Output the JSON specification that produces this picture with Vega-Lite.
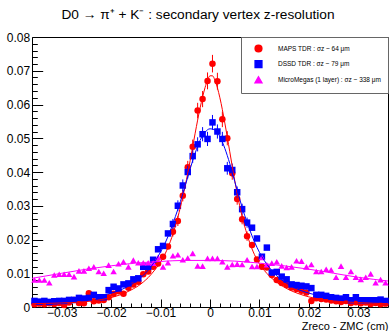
{
"$schema": "https://vega.github.io/schema/vega-lite/v6.json",
"width": 356, "height": 270,
"autosize": {"type": "none"},
"padding": {"left": 32, "top": 37, "right": 2, "bottom": 24},
"title": {"text": "D0 → π⁺ + K⁻ : secondary vertex z-resolution", "font": "Liberation Sans", "fontSize": 13.7, "fontWeight": "normal", "anchor": "middle", "frame": "group", "dx": -12, "offset": -2, "baseline": "alphabetic", "color": "#000"},
"config": {"view": {"stroke": "#000", "strokeWidth": 1}, "font": "Liberation Sans"},
"datasets": {
"pts": [
{"s":"MAPS","x":-0.0355,"y":0.0008},{"s":"MAPS","x":-0.0345,"y":0.0010},{"s":"MAPS","x":-0.0335,"y":0.0008},{"s":"MAPS","x":-0.0325,"y":0.0011},{"s":"MAPS","x":-0.0315,"y":0.0009},{"s":"MAPS","x":-0.0305,"y":0.0012},{"s":"MAPS","x":-0.0295,"y":0.0006},{"s":"MAPS","x":-0.0285,"y":0.0013},{"s":"MAPS","x":-0.0275,"y":0.0021},{"s":"MAPS","x":-0.0265,"y":0.0012},{"s":"MAPS","x":-0.0255,"y":0.0011},{"s":"MAPS","x":-0.0245,"y":0.0041},{"s":"MAPS","x":-0.0235,"y":0.0017},{"s":"MAPS","x":-0.0225,"y":0.0019},{"s":"MAPS","x":-0.0215,"y":0.0021},{"s":"MAPS","x":-0.0205,"y":0.0029},{"s":"MAPS","x":-0.0195,"y":0.0039},{"s":"MAPS","x":-0.0185,"y":0.0047},{"s":"MAPS","x":-0.0175,"y":0.0039},{"s":"MAPS","x":-0.0165,"y":0.0057},{"s":"MAPS","x":-0.0155,"y":0.0067},{"s":"MAPS","x":-0.0145,"y":0.0075},{"s":"MAPS","x":-0.0135,"y":0.0097},{"s":"MAPS","x":-0.0125,"y":0.0105},{"s":"MAPS","x":-0.0115,"y":0.0119},{"s":"MAPS","x":-0.0105,"y":0.0129},{"s":"MAPS","x":-0.0095,"y":0.0149},{"s":"MAPS","x":-0.0085,"y":0.0179},{"s":"MAPS","x":-0.0075,"y":0.0223},{"s":"MAPS","x":-0.0065,"y":0.0255},{"s":"MAPS","x":-0.0055,"y":0.0330},{"s":"MAPS","x":-0.0045,"y":0.0414},{"s":"MAPS","x":-0.0035,"y":0.0475},{"s":"MAPS","x":-0.0025,"y":0.0582},{"s":"MAPS","x":-0.0015,"y":0.0616},{"s":"MAPS","x":-0.0005,"y":0.0670},{"s":"MAPS","x":0.0005,"y":0.0721},{"s":"MAPS","x":0.0015,"y":0.0669},{"s":"MAPS","x":0.0025,"y":0.0556},{"s":"MAPS","x":0.0035,"y":0.0500},{"s":"MAPS","x":0.0045,"y":0.0396},{"s":"MAPS","x":0.0055,"y":0.0320},{"s":"MAPS","x":0.0065,"y":0.0260},{"s":"MAPS","x":0.0075,"y":0.0210},{"s":"MAPS","x":0.0085,"y":0.0184},{"s":"MAPS","x":0.0095,"y":0.0141},{"s":"MAPS","x":0.0105,"y":0.0119},{"s":"MAPS","x":0.0115,"y":0.0117},{"s":"MAPS","x":0.0125,"y":0.0095},{"s":"MAPS","x":0.0135,"y":0.0080},{"s":"MAPS","x":0.0145,"y":0.0071},{"s":"MAPS","x":0.0155,"y":0.0065},{"s":"MAPS","x":0.0165,"y":0.0058},{"s":"MAPS","x":0.0175,"y":0.0053},{"s":"MAPS","x":0.0185,"y":0.0048},{"s":"MAPS","x":0.0195,"y":0.0043},{"s":"MAPS","x":0.0205,"y":0.0018},{"s":"MAPS","x":0.0215,"y":0.0026},{"s":"MAPS","x":0.0225,"y":0.0024},{"s":"MAPS","x":0.0235,"y":0.0022},{"s":"MAPS","x":0.0245,"y":0.0019},{"s":"MAPS","x":0.0255,"y":0.0017},{"s":"MAPS","x":0.0265,"y":0.0015},{"s":"MAPS","x":0.0275,"y":0.0018},{"s":"MAPS","x":0.0285,"y":0.0012},{"s":"MAPS","x":0.0295,"y":0.0014},{"s":"MAPS","x":0.0305,"y":0.0011},{"s":"MAPS","x":0.0315,"y":0.0013},{"s":"MAPS","x":0.0325,"y":0.0009},{"s":"MAPS","x":0.0335,"y":0.0012},{"s":"MAPS","x":0.0345,"y":0.0008},{"s":"MAPS","x":0.0355,"y":0.0010},
{"s":"DSSD","x":-0.0355,"y":0.0018},{"s":"DSSD","x":-0.0345,"y":0.0016},{"s":"DSSD","x":-0.0335,"y":0.0018},{"s":"DSSD","x":-0.0325,"y":0.0015},{"s":"DSSD","x":-0.0315,"y":0.0017},{"s":"DSSD","x":-0.0305,"y":0.0018},{"s":"DSSD","x":-0.0295,"y":0.0018},{"s":"DSSD","x":-0.0285,"y":0.0021},{"s":"DSSD","x":-0.0275,"y":0.0021},{"s":"DSSD","x":-0.0265,"y":0.0027},{"s":"DSSD","x":-0.0255,"y":0.0025},{"s":"DSSD","x":-0.0245,"y":0.0027},{"s":"DSSD","x":-0.0235,"y":0.0036},{"s":"DSSD","x":-0.0225,"y":0.0029},{"s":"DSSD","x":-0.0215,"y":0.0029},{"s":"DSSD","x":-0.0205,"y":0.0050},{"s":"DSSD","x":-0.0195,"y":0.0060},{"s":"DSSD","x":-0.0185,"y":0.0055},{"s":"DSSD","x":-0.0175,"y":0.0067},{"s":"DSSD","x":-0.0165,"y":0.0070},{"s":"DSSD","x":-0.0155,"y":0.0082},{"s":"DSSD","x":-0.0145,"y":0.0085},{"s":"DSSD","x":-0.0135,"y":0.0119},{"s":"DSSD","x":-0.0125,"y":0.0119},{"s":"DSSD","x":-0.0115,"y":0.0140},{"s":"DSSD","x":-0.0105,"y":0.0171},{"s":"DSSD","x":-0.0095,"y":0.0181},{"s":"DSSD","x":-0.0085,"y":0.0218},{"s":"DSSD","x":-0.0075,"y":0.0246},{"s":"DSSD","x":-0.0065,"y":0.0300},{"s":"DSSD","x":-0.0055,"y":0.0360},{"s":"DSSD","x":-0.0045,"y":0.0400},{"s":"DSSD","x":-0.0035,"y":0.0447},{"s":"DSSD","x":-0.0025,"y":0.0482},{"s":"DSSD","x":-0.0015,"y":0.0512},{"s":"DSSD","x":-0.0005,"y":0.0498},{"s":"DSSD","x":0.0005,"y":0.0547},{"s":"DSSD","x":0.0015,"y":0.0520},{"s":"DSSD","x":0.0025,"y":0.0498},{"s":"DSSD","x":0.0035,"y":0.0411},{"s":"DSSD","x":0.0045,"y":0.0406},{"s":"DSSD","x":0.0055,"y":0.0340},{"s":"DSSD","x":0.0065,"y":0.0290},{"s":"DSSD","x":0.0075,"y":0.0250},{"s":"DSSD","x":0.0085,"y":0.0235},{"s":"DSSD","x":0.0095,"y":0.0203},{"s":"DSSD","x":0.0105,"y":0.0149},{"s":"DSSD","x":0.0115,"y":0.0176},{"s":"DSSD","x":0.0125,"y":0.0102},{"s":"DSSD","x":0.0135,"y":0.0104},{"s":"DSSD","x":0.0145,"y":0.0090},{"s":"DSSD","x":0.0155,"y":0.0082},{"s":"DSSD","x":0.0165,"y":0.0067},{"s":"DSSD","x":0.0175,"y":0.0065},{"s":"DSSD","x":0.0185,"y":0.0063},{"s":"DSSD","x":0.0195,"y":0.0061},{"s":"DSSD","x":0.0205,"y":0.0056},{"s":"DSSD","x":0.0215,"y":0.0036},{"s":"DSSD","x":0.0225,"y":0.0036},{"s":"DSSD","x":0.0235,"y":0.0033},{"s":"DSSD","x":0.0245,"y":0.0029},{"s":"DSSD","x":0.0255,"y":0.0027},{"s":"DSSD","x":0.0265,"y":0.0025},{"s":"DSSD","x":0.0275,"y":0.0029},{"s":"DSSD","x":0.0285,"y":0.0020},{"s":"DSSD","x":0.0295,"y":0.0029},{"s":"DSSD","x":0.0305,"y":0.0020},{"s":"DSSD","x":0.0315,"y":0.0020},{"s":"DSSD","x":0.0325,"y":0.0020},{"s":"DSSD","x":0.0335,"y":0.0020},{"s":"DSSD","x":0.0345,"y":0.0022},{"s":"DSSD","x":0.0355,"y":0.0018},
{"s":"MM","x":-0.0355,"y":0.0080},{"s":"MM","x":-0.0345,"y":0.0080},{"s":"MM","x":-0.0335,"y":0.0080},{"s":"MM","x":-0.0325,"y":0.0072},{"s":"MM","x":-0.0315,"y":0.0095},{"s":"MM","x":-0.0305,"y":0.0097},{"s":"MM","x":-0.0295,"y":0.0097},{"s":"MM","x":-0.0285,"y":0.0097},{"s":"MM","x":-0.0275,"y":0.0090},{"s":"MM","x":-0.0265,"y":0.0107},{"s":"MM","x":-0.0255,"y":0.0107},{"s":"MM","x":-0.0245,"y":0.0115},{"s":"MM","x":-0.0235,"y":0.0119},{"s":"MM","x":-0.0225,"y":0.0105},{"s":"MM","x":-0.0215,"y":0.0100},{"s":"MM","x":-0.0205,"y":0.0124},{"s":"MM","x":-0.0195,"y":0.0105},{"s":"MM","x":-0.0185,"y":0.0128},{"s":"MM","x":-0.0175,"y":0.0134},{"s":"MM","x":-0.0165,"y":0.0119},{"s":"MM","x":-0.0155,"y":0.0139},{"s":"MM","x":-0.0145,"y":0.0131},{"s":"MM","x":-0.0135,"y":0.0131},{"s":"MM","x":-0.0125,"y":0.0131},{"s":"MM","x":-0.0115,"y":0.0130},{"s":"MM","x":-0.0105,"y":0.0147},{"s":"MM","x":-0.0095,"y":0.0119},{"s":"MM","x":-0.0085,"y":0.0131},{"s":"MM","x":-0.0075,"y":0.0152},{"s":"MM","x":-0.0065,"y":0.0155},{"s":"MM","x":-0.0055,"y":0.0140},{"s":"MM","x":-0.0045,"y":0.0145},{"s":"MM","x":-0.0035,"y":0.0159},{"s":"MM","x":-0.0025,"y":0.0122},{"s":"MM","x":-0.0015,"y":0.0121},{"s":"MM","x":-0.0005,"y":0.0144},{"s":"MM","x":0.0005,"y":0.0144},{"s":"MM","x":0.0015,"y":0.0144},{"s":"MM","x":0.0025,"y":0.0134},{"s":"MM","x":0.0035,"y":0.0119},{"s":"MM","x":0.0045,"y":0.0126},{"s":"MM","x":0.0055,"y":0.0127},{"s":"MM","x":0.0065,"y":0.0126},{"s":"MM","x":0.0075,"y":0.0140},{"s":"MM","x":0.0085,"y":0.0120},{"s":"MM","x":0.0095,"y":0.0120},{"s":"MM","x":0.0105,"y":0.0147},{"s":"MM","x":0.0115,"y":0.0125},{"s":"MM","x":0.0125,"y":0.0130},{"s":"MM","x":0.0135,"y":0.0134},{"s":"MM","x":0.0145,"y":0.0122},{"s":"MM","x":0.0155,"y":0.0117},{"s":"MM","x":0.0165,"y":0.0119},{"s":"MM","x":0.0175,"y":0.0137},{"s":"MM","x":0.0185,"y":0.0136},{"s":"MM","x":0.0195,"y":0.0119},{"s":"MM","x":0.0205,"y":0.0126},{"s":"MM","x":0.0215,"y":0.0105},{"s":"MM","x":0.0225,"y":0.0105},{"s":"MM","x":0.0235,"y":0.0112},{"s":"MM","x":0.0245,"y":0.0110},{"s":"MM","x":0.0255,"y":0.0088},{"s":"MM","x":0.0265,"y":0.0121},{"s":"MM","x":0.0275,"y":0.0088},{"s":"MM","x":0.0285,"y":0.0105},{"s":"MM","x":0.0295,"y":0.0088},{"s":"MM","x":0.0305,"y":0.0082},{"s":"MM","x":0.0315,"y":0.0088},{"s":"MM","x":0.0325,"y":0.0098},{"s":"MM","x":0.0335,"y":0.0072},{"s":"MM","x":0.0345,"y":0.0081},{"s":"MM","x":0.0355,"y":0.0072}
],
"fit": [
{"s":"MAPS","x":-0.036,"y":0.0010},{"s":"MAPS","x":-0.03,"y":0.0012},{"s":"MAPS","x":-0.025,"y":0.0016},{"s":"MAPS","x":-0.022,"y":0.0022},{"s":"MAPS","x":-0.02,"y":0.0028},{"s":"MAPS","x":-0.018,"y":0.0037},{"s":"MAPS","x":-0.016,"y":0.0050},{"s":"MAPS","x":-0.014,"y":0.0068},{"s":"MAPS","x":-0.012,"y":0.0095},{"s":"MAPS","x":-0.011,"y":0.0113},{"s":"MAPS","x":-0.010,"y":0.0133},{"s":"MAPS","x":-0.009,"y":0.0160},{"s":"MAPS","x":-0.008,"y":0.0195},{"s":"MAPS","x":-0.007,"y":0.0240},{"s":"MAPS","x":-0.006,"y":0.0295},{"s":"MAPS","x":-0.005,"y":0.0360},{"s":"MAPS","x":-0.004,"y":0.0435},{"s":"MAPS","x":-0.003,"y":0.0515},{"s":"MAPS","x":-0.002,"y":0.0590},{"s":"MAPS","x":-0.001,"y":0.0650},{"s":"MAPS","x":-0.0005,"y":0.0672},{"s":"MAPS","x":0,"y":0.0685},{"s":"MAPS","x":0.0005,"y":0.0685},{"s":"MAPS","x":0.001,"y":0.0672},{"s":"MAPS","x":0.002,"y":0.0620},{"s":"MAPS","x":0.003,"y":0.0545},{"s":"MAPS","x":0.004,"y":0.0460},{"s":"MAPS","x":0.005,"y":0.0375},{"s":"MAPS","x":0.006,"y":0.0300},{"s":"MAPS","x":0.007,"y":0.0240},{"s":"MAPS","x":0.008,"y":0.0192},{"s":"MAPS","x":0.009,"y":0.0155},{"s":"MAPS","x":0.010,"y":0.0128},{"s":"MAPS","x":0.011,"y":0.0108},{"s":"MAPS","x":0.012,"y":0.0092},{"s":"MAPS","x":0.014,"y":0.0068},{"s":"MAPS","x":0.016,"y":0.0051},{"s":"MAPS","x":0.018,"y":0.0039},{"s":"MAPS","x":0.020,"y":0.0030},{"s":"MAPS","x":0.022,"y":0.0024},{"s":"MAPS","x":0.025,"y":0.0018},{"s":"MAPS","x":0.03,"y":0.0013},{"s":"MAPS","x":0.036,"y":0.0010},
{"s":"DSSD","x":-0.036,"y":0.0016},{"s":"DSSD","x":-0.03,"y":0.0020},{"s":"DSSD","x":-0.025,"y":0.0027},{"s":"DSSD","x":-0.022,"y":0.0034},{"s":"DSSD","x":-0.02,"y":0.0041},{"s":"DSSD","x":-0.018,"y":0.0051},{"s":"DSSD","x":-0.016,"y":0.0066},{"s":"DSSD","x":-0.014,"y":0.0087},{"s":"DSSD","x":-0.012,"y":0.0118},{"s":"DSSD","x":-0.010,"y":0.0163},{"s":"DSSD","x":-0.009,"y":0.0192},{"s":"DSSD","x":-0.008,"y":0.0227},{"s":"DSSD","x":-0.007,"y":0.0268},{"s":"DSSD","x":-0.006,"y":0.0312},{"s":"DSSD","x":-0.005,"y":0.0360},{"s":"DSSD","x":-0.004,"y":0.0410},{"s":"DSSD","x":-0.003,"y":0.0456},{"s":"DSSD","x":-0.002,"y":0.0494},{"s":"DSSD","x":-0.001,"y":0.0518},{"s":"DSSD","x":0,"y":0.0528},{"s":"DSSD","x":0.001,"y":0.0525},{"s":"DSSD","x":0.002,"y":0.0505},{"s":"DSSD","x":0.003,"y":0.0470},{"s":"DSSD","x":0.004,"y":0.0425},{"s":"DSSD","x":0.005,"y":0.0372},{"s":"DSSD","x":0.006,"y":0.0320},{"s":"DSSD","x":0.007,"y":0.0272},{"s":"DSSD","x":0.008,"y":0.0230},{"s":"DSSD","x":0.009,"y":0.0193},{"s":"DSSD","x":0.010,"y":0.0162},{"s":"DSSD","x":0.012,"y":0.0117},{"s":"DSSD","x":0.014,"y":0.0086},{"s":"DSSD","x":0.016,"y":0.0066},{"s":"DSSD","x":0.018,"y":0.0051},{"s":"DSSD","x":0.020,"y":0.0041},{"s":"DSSD","x":0.022,"y":0.0034},{"s":"DSSD","x":0.025,"y":0.0027},{"s":"DSSD","x":0.030,"y":0.0020},{"s":"DSSD","x":0.036,"y":0.0016},
{"s":"MM","x":-0.036,"y":0.0085},{"s":"MM","x":-0.03,"y":0.0100},{"s":"MM","x":-0.025,"y":0.0112},{"s":"MM","x":-0.02,"y":0.0122},{"s":"MM","x":-0.015,"y":0.0130},{"s":"MM","x":-0.01,"y":0.0135},{"s":"MM","x":-0.005,"y":0.0138},{"s":"MM","x":0,"y":0.0138},{"s":"MM","x":0.005,"y":0.0136},{"s":"MM","x":0.01,"y":0.0130},{"s":"MM","x":0.015,"y":0.0122},{"s":"MM","x":0.02,"y":0.0112},{"s":"MM","x":0.025,"y":0.0100},{"s":"MM","x":0.03,"y":0.0088},{"s":"MM","x":0.036,"y":0.0077}
],
"err": [
{"s":"MAPS","x":-0.0075,"lo":0.0209,"hi":0.0237},{"s":"MAPS","x":-0.0065,"lo":0.0240,"hi":0.0270},{"s":"MAPS","x":-0.0055,"lo":0.0313,"hi":0.0347},{"s":"MAPS","x":-0.0045,"lo":0.0395,"hi":0.0433},{"s":"MAPS","x":-0.0035,"lo":0.0454,"hi":0.0496},{"s":"MAPS","x":-0.0025,"lo":0.0559,"hi":0.0605},{"s":"MAPS","x":-0.0015,"lo":0.0592,"hi":0.0640},{"s":"MAPS","x":-0.0005,"lo":0.0645,"hi":0.0695},{"s":"MAPS","x":0.0005,"lo":0.0695,"hi":0.0747},{"s":"MAPS","x":0.0015,"lo":0.0644,"hi":0.0694},{"s":"MAPS","x":0.0025,"lo":0.0533,"hi":0.0579},{"s":"MAPS","x":0.0035,"lo":0.0479,"hi":0.0521},{"s":"MAPS","x":0.0045,"lo":0.0377,"hi":0.0415},{"s":"MAPS","x":0.0055,"lo":0.0303,"hi":0.0337},{"s":"MAPS","x":0.0065,"lo":0.0245,"hi":0.0275},{"s":"MAPS","x":0.0075,"lo":0.0196,"hi":0.0224},
{"s":"DSSD","x":-0.0075,"lo":0.0231,"hi":0.0261},{"s":"DSSD","x":-0.0065,"lo":0.0284,"hi":0.0316},{"s":"DSSD","x":-0.0055,"lo":0.0342,"hi":0.0378},{"s":"DSSD","x":-0.0045,"lo":0.0381,"hi":0.0419},{"s":"DSSD","x":-0.0035,"lo":0.0427,"hi":0.0467},{"s":"DSSD","x":-0.0025,"lo":0.0461,"hi":0.0503},{"s":"DSSD","x":-0.0015,"lo":0.0491,"hi":0.0533},{"s":"DSSD","x":-0.0005,"lo":0.0477,"hi":0.0519},{"s":"DSSD","x":0.0005,"lo":0.0525,"hi":0.0569},{"s":"DSSD","x":0.0015,"lo":0.0499,"hi":0.0541},{"s":"DSSD","x":0.0025,"lo":0.0477,"hi":0.0519},{"s":"DSSD","x":0.0035,"lo":0.0392,"hi":0.0430},{"s":"DSSD","x":0.0045,"lo":0.0387,"hi":0.0425},{"s":"DSSD","x":0.0055,"lo":0.0323,"hi":0.0357},{"s":"DSSD","x":0.0065,"lo":0.0274,"hi":0.0306},{"s":"DSSD","x":0.0075,"lo":0.0235,"hi":0.0265}
]
},
"layer": [
{
"data": {"name": "pts"},
"mark": {"type": "point", "filled": true, "opacity": 1, "size": 42, "strokeWidth": 0},
"encoding": {
"x": {"field": "x", "type": "quantitative", "scale": {"domain": [-0.036, 0.036], "nice": false, "zero": false}, "axis": {"orient": "bottom", "values": [-0.03,-0.02,-0.01,0,0.01,0.02,0.03], "labelExpr": "datum.value == 0 ? '0' : format(datum.value, '.2f')", "labelFont": "Liberation Sans", "labelFontSize": 12, "labelColor": "#000", "labelPadding": 8, "labelFlush": false, "labelOverlap": false, "domain": false, "grid": false, "tickSize": -8, "tickColor": "#000", "tickWidth": 1, "title": "Zreco - ZMC (cm)", "titleFont": "Liberation Sans", "titleFontSize": 11, "titleFontWeight": "normal", "titleColor": "#000", "titleAlign": "right", "titleAnchor": "end", "titleX": 356, "titleY": 22, "titleBaseline": "alphabetic"}},
"y": {"field": "y", "type": "quantitative", "scale": {"domain": [0, 0.08], "nice": false}, "axis": {"orient": "left", "values": [0,0.01,0.02,0.03,0.04,0.05,0.06,0.07,0.08], "labelExpr": "datum.value == 0 ? '0' : format(datum.value, '.2f')", "labelFont": "Liberation Sans", "labelFontSize": 12, "labelColor": "#000", "labelPadding": 13, "labelFlush": false, "labelOverlap": false, "domain": false, "grid": false, "tickSize": -10.7, "tickColor": "#000", "tickWidth": 1, "title": null}},
"color": {"field": "s", "type": "nominal", "scale": {"domain": ["MAPS", "DSSD", "MM"], "range": ["#ff0000", "#0000ff", "#ff00ff"]}, "legend": {"orient": "top-right", "offset": 0, "title": null, "padding": 7, "strokeColor": "#666", "fillColor": "#fff", "labelFont": "Liberation Sans", "labelFontSize": 6.5, "labelColor": "#000", "symbolSize": 45, "rowPadding": 2.7, "labelOffset": 15, "symbolOffset": 6, "labelExpr": "datum.value == 'MAPS' ? 'MAPS TDR : σz ~ 64 μm' : datum.value == 'DSSD' ? 'DSSD TDR : σz ~ 79 μm' : 'MicroMegas (1 layer) : σz ~ 338 μm'"}},
"shape": {"field": "s", "type": "nominal", "scale": {"domain": ["MAPS", "DSSD", "MM"], "range": ["circle", "square", "triangle-up"]}, "legend": {"orient": "top-right", "offset": 0, "title": null, "padding": 7, "strokeColor": "#666", "fillColor": "#fff", "labelFont": "Liberation Sans", "labelFontSize": 6.5, "labelColor": "#000", "symbolSize": 45, "rowPadding": 2.7, "labelOffset": 15, "symbolOffset": 6, "labelExpr": "datum.value == 'MAPS' ? 'MAPS TDR : σz ~ 64 μm' : datum.value == 'DSSD' ? 'DSSD TDR : σz ~ 79 μm' : 'MicroMegas (1 layer) : σz ~ 338 μm'"}}
}
},
{
"data": {"name": "err"},
"mark": {"type": "rule", "strokeWidth": 1},
"encoding": {
"x": {"field": "x", "type": "quantitative", "axis": {"orient": "bottom", "values": [-0.034,-0.032,-0.028,-0.026,-0.024,-0.022,-0.018,-0.016,-0.014,-0.012,-0.008,-0.006,-0.004,-0.002,0.002,0.004,0.006,0.008,0.012,0.014,0.016,0.018,0.022,0.024,0.026,0.028,0.032,0.034], "labels": false, "domain": false, "grid": false, "title": null, "tickSize": -4, "tickColor": "#000", "tickWidth": 1}},
"y": {"field": "lo", "type": "quantitative", "axis": {"orient": "left", "values": [0.002,0.004,0.006,0.008,0.012,0.014,0.016,0.018,0.022,0.024,0.026,0.028,0.032,0.034,0.036,0.038,0.042,0.044,0.046,0.048,0.052,0.054,0.056,0.058,0.062,0.064,0.066,0.068,0.072,0.074,0.076,0.078], "labels": false, "domain": false, "grid": false, "title": null, "tickSize": -5.3, "tickColor": "#000", "tickWidth": 1}},
"y2": {"field": "hi"},
"stroke": {"field": "s", "type": "nominal", "scale": {"domain": ["MAPS", "DSSD", "MM"], "range": ["#ff0000", "#0000ff", "#ff00ff"]}, "legend": null}
}
},
{
"data": {"name": "fit"},
"mark": {"type": "line", "strokeWidth": 1, "interpolate": "monotone"},
"encoding": {
"x": {"field": "x", "type": "quantitative", "axis": null},
"y": {"field": "y", "type": "quantitative", "axis": null},
"stroke": {"field": "s", "type": "nominal", "legend": null},
"detail": {"field": "s"}
}
}
],
"resolve": {"axis": {"x": "independent", "y": "independent"}}
}
